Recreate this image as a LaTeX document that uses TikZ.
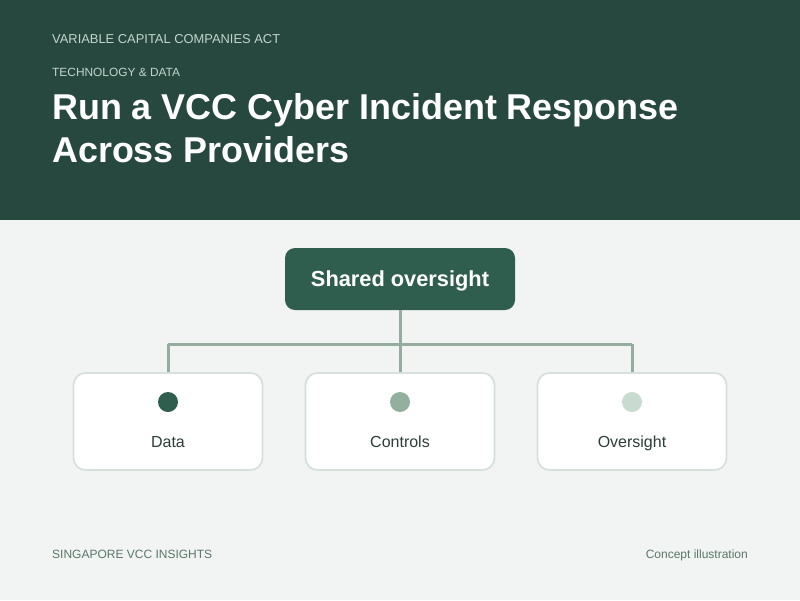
\documentclass[tikz,border=0pt]{standalone}
\usepackage{fontspec}
\setmainfont{Liberation Sans}
\definecolor{hdrbg}{HTML}{26483F}
\definecolor{pagebg}{HTML}{F1F4F2}
\definecolor{topbox}{HTML}{2F5E4F}
\definecolor{linkc}{HTML}{94AD9F}
\definecolor{boxbd}{HTML}{D6E1DB}
\definecolor{dotA}{HTML}{2F5E4F}
\definecolor{dotB}{HTML}{93B09F}
\definecolor{dotC}{HTML}{C9DBD0}
\definecolor{hdrtxt}{HTML}{C3D5CB}
\definecolor{lbltxt}{HTML}{2C3E37}
\definecolor{foottxt}{HTML}{5B7669}
\tikzset{
  card/.style={draw=boxbd, line width=1.8pt, fill=white, rounded corners=12pt, minimum width=189pt, minimum height=97pt, inner sep=0pt},
  rootbox/.style={fill=topbox, rounded corners=10pt, minimum width=230pt, minimum height=62pt, inner sep=0pt, text height=15.6pt, text depth=0pt, text=white, font=\fontsize{21.8}{26}\selectfont\bfseries},
  link/.style={draw=linkc, line width=3pt},
  dotnode/.style={circle, minimum size=20pt, inner sep=0pt},
  cardlabel/.style={text=lbltxt, font=\fontsize{16}{19}\selectfont, anchor=base},
  small/.style={text=hdrtxt, anchor=base west, inner sep=0pt},
  foot/.style={text=foottxt, font=\fontsize{12}{14}\selectfont, inner sep=0pt}
}
\begin{document}
\begin{tikzpicture}[x=1pt, y=-1pt]
\useasboundingbox (0,0) rectangle (800,600);
\fill[pagebg] (0,0) rectangle (800,600);
\fill[hdrbg] (0,0) rectangle (800,220);
\node[small, font=\fontsize{12.9}{15}\selectfont] (act) at (52,43) {VARIABLE CAPITAL COMPANIES ACT};
\node[small, font=\fontsize{11.9}{14}\selectfont] (topic) at (52,76) {TECHNOLOGY \& DATA};
\node[anchor=base west, inner sep=0pt, text=white, font=\fontsize{35.9}{42}\selectfont\bfseries] (t1) at (52,119) {Run a VCC Cyber Incident Response};
\node[anchor=base west, inner sep=0pt, text=white, font=\fontsize{35.9}{42}\selectfont\bfseries] (t2) at (52,162) {Across Providers};
% root
\node[rootbox] (root) at (400,279) {Shared oversight};
% cards
\node[card] (c1) at (168,421.5) {};
\node[card] (c2) at (400,421.5) {};
\node[card] (c3) at (632,421.5) {};
\coordinate (j) at (400,344);
\coordinate (j1) at (168,344);
\coordinate (j3) at (632,344);
\draw[link] (root.south) -- (j);
\draw[link] (j1) -- (j3);
\draw[link] (j1) -- (c1.north);
\draw[link] (j) -- (c2.north);
\draw[link] (j3) -- (c3.north);
\node[dotnode, fill=dotA] (d1) at (168,402) {};
\node[dotnode, fill=dotB] (d2) at (400,402) {};
\node[dotnode, fill=dotC] (d3) at (632,402) {};
\node[cardlabel] (l1) at (168,447) {Data};
\node[cardlabel] (l2) at (400,447) {Controls};
\node[cardlabel] (l3) at (632,447) {Oversight};
\node[foot, anchor=base west] (f1) at (52,558) {SINGAPORE VCC INSIGHTS};
\node[foot, anchor=base east] (f2) at (748,558) {Concept illustration};
\end{tikzpicture}
\end{document}
